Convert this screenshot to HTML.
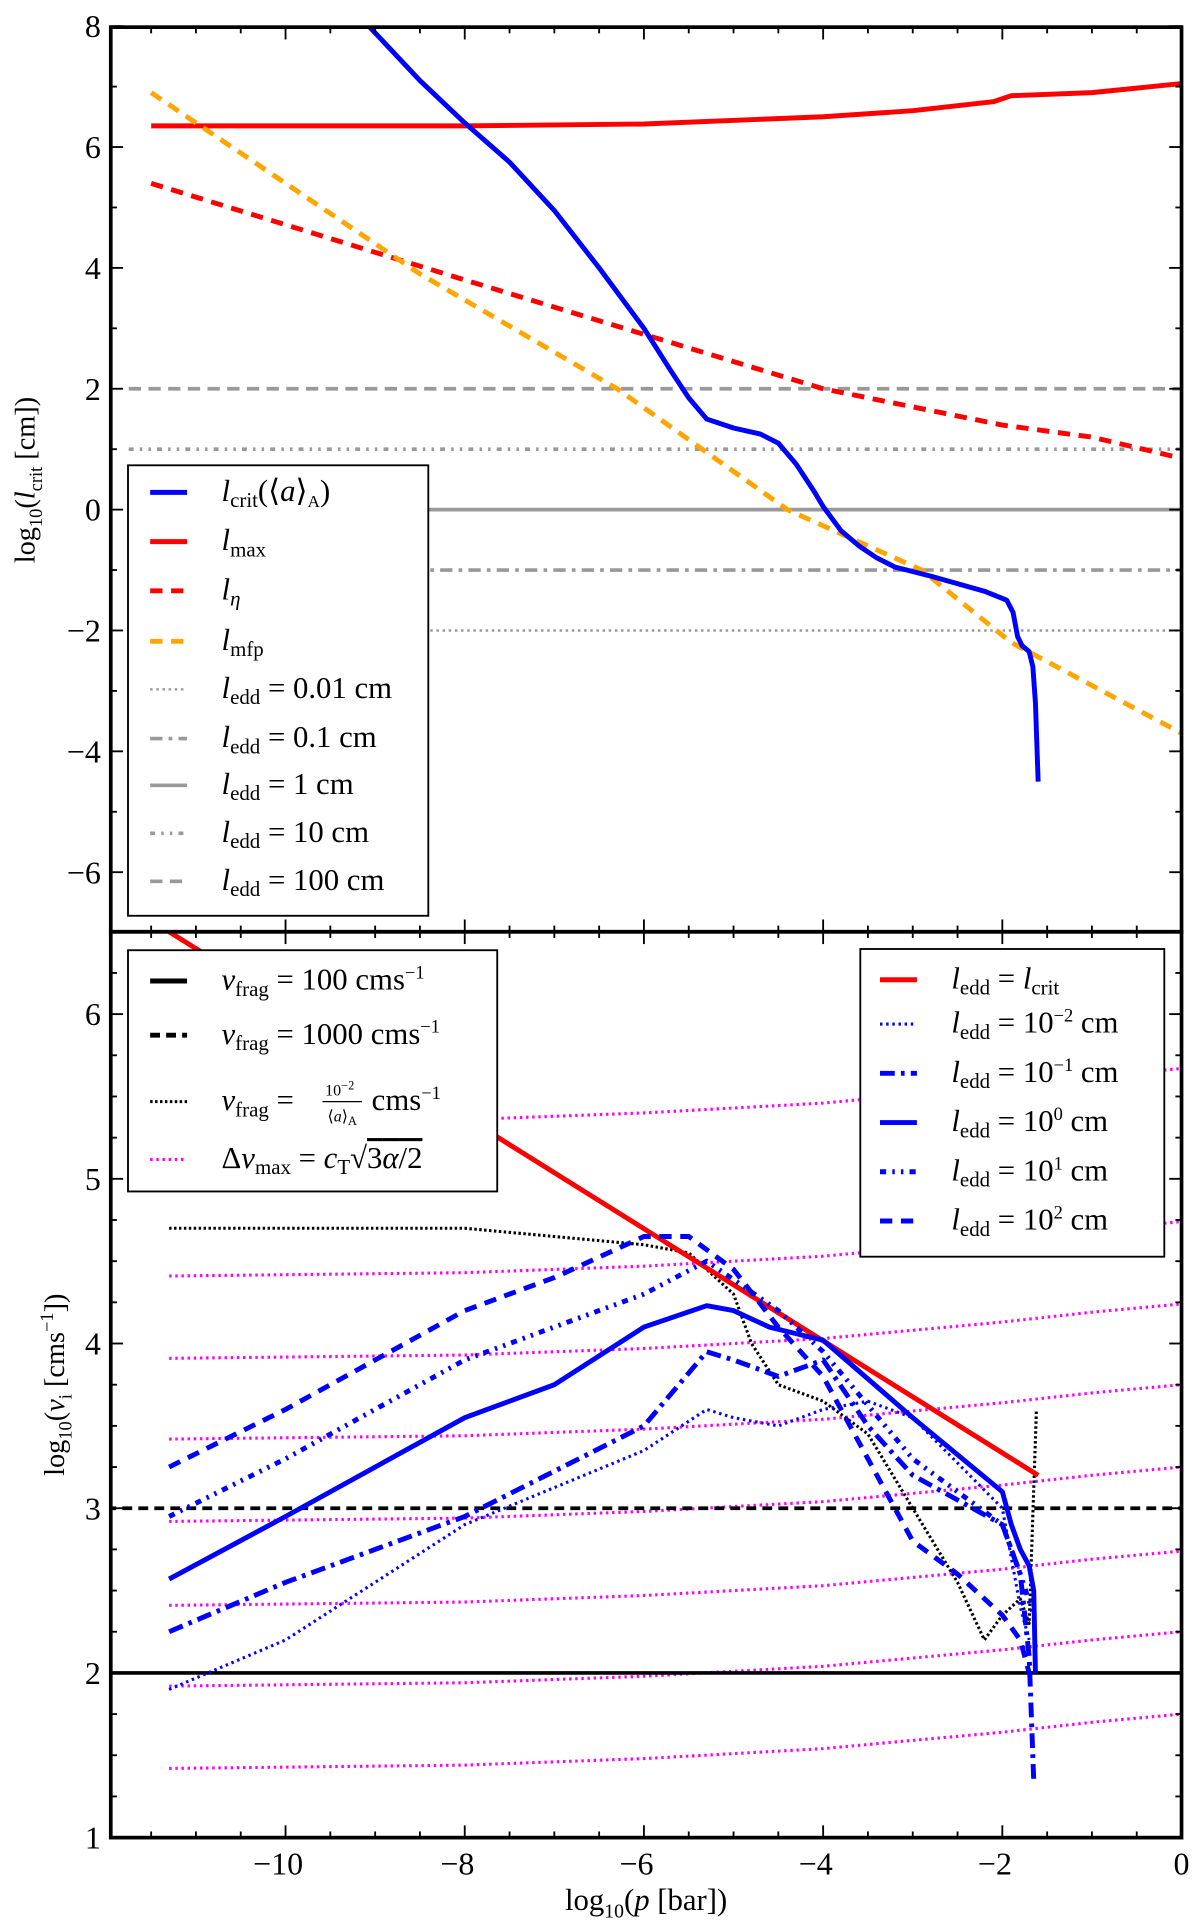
<!DOCTYPE html>
<html><head><meta charset="utf-8"><style>
html,body{margin:0;padding:0;background:#fff}
svg{display:block}
text{font-family:"Liberation Serif","DejaVu Serif",serif;fill:#000}
.it{font-style:italic}
</style></head><body>
<svg id="chart" width="1200" height="1930" viewBox="0 0 975 1568" xmlns="http://www.w3.org/2000/svg">
<g id="top"></g>
<g id="bot"></g>
</svg>
<script>
// ---- data (x = log10 p [bar]) ----
const xTicks = [-10,-8,-6,-4,-2,0];
const topYTicks = [-6,-4,-2,0,2,4,6,8];
const botYTicks = [1,2,3,4,5,6];

const lmaxX = [-11.5,-8,-6,-4,-3,-2.1,-1.9,-1,0];
const lmaxY = [6.35,6.35,6.38,6.5,6.6,6.75,6.85,6.9,7.05];
const letaX = [-11.5,-8,-6,-4,-2,-1,0];
const letaY = [5.4,3.8,2.9,2.0,1.4,1.2,0.85];
const lmfpX = [-11.5,-8.5,-6.3,-4.4,-2.9,-1.9,0];
const lmfpY = [6.9,3.9,2.0,0.0,-1.0,-2.2,-3.7];
const lcritX = [-9.07,-8.5,-8,-7.5,-7,-6.5,-6,-5.7,-5.5,-5.3,-5,-4.7,-4.5,-4.3,-4.1,-4,-3.8,-3.6,-3.4,-3.2,-2.8,-2.2,-1.95,-1.88,-1.83,-1.78,-1.7,-1.66,-1.63,-1.6];
const lcritY = [8,7.1,6.4,5.75,4.95,4.0,3.0,2.3,1.85,1.5,1.35,1.25,1.1,0.75,0.3,0.05,-0.35,-0.6,-0.8,-0.95,-1.1,-1.35,-1.5,-1.7,-2.1,-2.25,-2.35,-2.6,-3.2,-4.5];
const leddLevels = [2,1,0,-1,-2];

const vRedX = [-11.3,-1.6];
const vRedY = [6.5,3.2];
const fragDotX = [-11.3,-8,-7,-6,-5.5,-5,-4.8,-4.5,-4,-3.5,-3,-2.5,-2.2,-2,-1.8,-1.7,-1.62];
const fragDotY = [4.7,4.7,4.65,4.6,4.55,4.3,4.0,3.75,3.65,3.45,3.0,2.55,2.2,2.35,2.45,2.3,3.6];
const magX = [-11.3,-8,-6,-4,-3,-2,-1,0];
const magRise = [0,0.02,0.06,0.12,0.17,0.22,0.28,0.33];
const magBase = [5.34,4.41,3.91,3.42,2.92,2.41,1.92,1.42];

const b2X = [-11.3,-10,-8,-7,-6,-5.5,-5,-4.5,-4,-3.5,-3,-2.5,-2,-1.8,-1.7];
const b2Y = [3.25,3.6,4.2,4.4,4.65,4.65,4.45,4.1,3.8,3.3,2.8,2.6,2.35,2.2,2.0];
const b1X = [-11.3,-10,-8,-6,-5.3,-4.5,-4,-3,-2,-1.8,-1.65];
const b1Y = [2.95,3.3,3.9,4.3,4.5,4.2,3.95,3.3,2.9,2.6,2.35];
const b0X = [-11.3,-10,-8,-7,-6,-5.3,-5,-4.6,-4,-3,-2,-1.9,-1.8,-1.7,-1.65,-1.63];
const b0Y = [2.57,2.95,3.55,3.75,4.1,4.23,4.2,4.1,4.02,3.55,3.1,2.9,2.75,2.65,2.5,2.0];
const bm1X = [-11.3,-10,-8,-6,-5.3,-5,-4.5,-4,-3.5,-3,-2,-1.8,-1.7,-1.65];
const bm1Y = [2.25,2.55,2.95,3.5,3.95,3.9,3.8,3.9,3.5,3.2,2.9,2.6,2.1,1.35];
const bm2X = [-11.3,-10,-8,-6,-5.3,-5,-4.5,-4,-3.5,-3,-2,-1.8,-1.7];
const bm2Y = [1.9,2.2,2.9,3.35,3.6,3.55,3.5,3.6,3.65,3.55,3.0,2.4,2.2];

// ---- axes ----
const L=90,R=960,T=22,M=757,B=1493;
const X = v => 960 + v*72.8;
const YT = v => 414 - v*49.1;
const YB = v => 1493 - (v-1)*(B-M)/5.5;
const NS="http://www.w3.org/2000/svg";
const topG=document.getElementById('top'), botG=document.getElementById('bot');
function el(tag,attrs,parent,txt){const e=document.createElementNS(NS,tag);for(const k in attrs)e.setAttribute(k,attrs[k]);if(txt!==undefined)e.textContent=txt;parent.appendChild(e);return e;}
function line(xs,ys,Y,style,parent,name){
  const d=xs.map((x,i)=>(i?'L':'M')+X(x).toFixed(1)+','+Y(ys[i]).toFixed(1)).join('');
  const p=el('path',Object.assign({d:d,fill:'none','stroke-linejoin':'round'},style),parent);
  
  
  return p;
}
const clipT=el('clipPath',{id:'ct'},document.getElementById('chart'));el('rect',{x:L,y:T,width:R-L,height:M-T},clipT);
const clipB=el('clipPath',{id:'cb'},document.getElementById('chart'));el('rect',{x:L,y:M,width:R-L,height:B-M},clipB);
const tp=el('g',{'clip-path':'url(#ct)'},topG), bp=el('g',{'clip-path':'url(#cb)'},botG);

const gray='#999';
const grayStyles=[{'stroke-dasharray':'10,6'},{'stroke-dasharray':'4,5,2,5,2,5'},{},{'stroke-dasharray':'10,5,3,5'},{'stroke-dasharray':'2,3'}];
const grayNames=['ledd-100cm','ledd-10cm','ledd-1cm','ledd-0.1cm','ledd-0.01cm'];
leddLevels.forEach((v,i)=>{line([-11.75,0],[v,v],YT,Object.assign({stroke:gray,'stroke-width':i==4?2:3},grayStyles[i]),tp,grayNames[i]);});
line(lmaxX,lmaxY,YT,{stroke:'#f00','stroke-width':4},tp,'l-max-line');
line(letaX,letaY,YT,{stroke:'#f00','stroke-width':4,'stroke-dasharray':'10,7'},tp,'l-eta-line');
line(lmfpX,lmfpY,YT,{stroke:'#ffa500','stroke-width':4,'stroke-dasharray':'10,7'},tp,'l-mfp-line');
line(lcritX,lcritY,YT,{stroke:'#00f','stroke-width':4},tp,'l-crit-line');

// bottom
magBase.forEach((b,i)=>{line(magX,magX.map((_,j)=>b+magRise[j]),YB,{stroke:'#f0f','stroke-width':2.5,'stroke-dasharray':'2,3'},bp,'dv-max-line-'+i);});
line([-12,0],[2,2],YB,{stroke:'#000','stroke-width':3},bp,'vfrag-100');
line([-12,0],[3,3],YB,{stroke:'#000','stroke-width':3,'stroke-dasharray':'8,5'},bp,'vfrag-1000');
line(fragDotX,fragDotY,YB,{stroke:'#000','stroke-width':2.5,'stroke-dasharray':'2,2'},bp,'vfrag-scaled');
line(vRedX,vRedY,YB,{stroke:'#f00','stroke-width':4},bp,'ledd-lcrit-line');
line(bm2X,bm2Y,YB,{stroke:'#00f','stroke-width':2.5,'stroke-dasharray':'2,3'},bp,'ledd-1e-2');
line(bm1X,bm1Y,YB,{stroke:'#00f','stroke-width':4,'stroke-dasharray':'12,5,3,5'},bp,'ledd-1e-1');
line(b0X,b0Y,YB,{stroke:'#00f','stroke-width':4},bp,'ledd-1e0');
line(b1X,b1Y,YB,{stroke:'#00f','stroke-width':4,'stroke-dasharray':'5,5,2,5,2,5'},bp,'ledd-1e1');
line(b2X,b2Y,YB,{stroke:'#00f','stroke-width':4,'stroke-dasharray':'10,7'},bp,'ledd-1e2');

// ticks & frames
function frame(parent,y0,y1,Y,ticks,minorStep,ymin,ymax,name){
  for(let v=-11.5;v<=0.01;v+=0.5){const maj=Math.abs(v-Math.round(v/2)*2)<1e-6;const len=maj?10:5;
    el('line',{x1:X(v),x2:X(v),y1:y1,y2:y1-len,stroke:'#000','stroke-width':1.5},parent);
    el('line',{x1:X(v),x2:X(v),y1:y0,y2:y0+len,stroke:'#000','stroke-width':1.5},parent);}
  for(let v=ymin;v<=ymax+1e-6;v+=minorStep){const maj=Math.abs(v-Math.round(v))<1e-6 && ticks.includes(Math.round(v));const len=maj?10:5;
    el('line',{x1:L,x2:L+len,y1:Y(v),y2:Y(v),stroke:'#000','stroke-width':1.5},parent);
    el('line',{x1:R,x2:R-len,y1:Y(v),y2:Y(v),stroke:'#000','stroke-width':1.5},parent);}
  ticks.forEach(t=>{const tx=el('text',{x:L-8,y:Y(t)+9,'text-anchor':'end','font-size':26},parent,(t<0?'\u2212':'')+Math.abs(t));
    
    });
  const r=el('rect',{x:L,y:y0,width:R-L,height:y1-y0,fill:'none',stroke:'#000','stroke-width':3},parent);
  
  
}
frame(topG,T,M,YT,topYTicks,1,-7,8,'top-y');
frame(botG,M,B,YB,botYTicks,0.25,1,6.5,'bottom-y');
xTicks.forEach(t=>{const tx=el('text',{x:X(t)+(t<0?-6:0),y:B+30,'text-anchor':'middle','font-size':26},botG,(t<0?'\u2212':'')+Math.abs(t));
  
  });
</script>
<svg style="position:absolute;left:0;top:0" width="1200" height="1930" viewBox="0 0 975 1568" xmlns="http://www.w3.org/2000/svg">
<text x="525" y="1552" text-anchor="middle" font-size="25">log<tspan font-size="16" dy="6">10</tspan><tspan dy="-6">(</tspan><tspan class="it">p</tspan> [bar])</text>
<text transform="translate(28,390) rotate(-90)" text-anchor="middle" font-size="23">log<tspan font-size="15" dy="6">10</tspan><tspan dy="-6">(</tspan><tspan class="it">l</tspan><tspan font-size="15" dy="6">crit</tspan><tspan dy="-6"> [cm])</tspan></text>
<text transform="translate(52,1125) rotate(-90)" text-anchor="middle" font-size="23">log<tspan font-size="15" dy="6">10</tspan><tspan dy="-6">(</tspan><tspan class="it">v</tspan><tspan font-size="15" dy="6">i</tspan><tspan dy="-6"> [cms</tspan><tspan font-size="15" dy="-9">−1</tspan><tspan dy="9">])</tspan></text>

<g>
<rect x="104" y="378" width="244" height="366" fill="#fff" stroke="#000" stroke-width="1.5"/>
<line x1="122" x2="152" y1="400" y2="400" stroke="#00f" stroke-width="4"/>
<line x1="122" x2="152" y1="440" y2="440" stroke="#f00" stroke-width="4"/>
<line x1="122" x2="152" y1="480" y2="480" stroke="#f00" stroke-width="4" stroke-dasharray="10,7"/>
<line x1="122" x2="152" y1="521" y2="521" stroke="#ffa500" stroke-width="4" stroke-dasharray="10,7"/>
<line x1="122" x2="152" y1="560" y2="560" stroke="#999" stroke-width="2" stroke-dasharray="2,3"/>
<line x1="122" x2="152" y1="600" y2="600" stroke="#999" stroke-width="3" stroke-dasharray="10,5,3,5"/>
<line x1="122" x2="152" y1="638" y2="638" stroke="#999" stroke-width="3"/>
<line x1="122" x2="152" y1="677" y2="677" stroke="#999" stroke-width="3" stroke-dasharray="4,5,2,5,2,5"/>
<line x1="122" x2="152" y1="716" y2="716" stroke="#999" stroke-width="3" stroke-dasharray="10,6"/>
<g font-size="25">
<text x="180" y="407"><tspan class="it">l</tspan><tspan font-size="17" dy="5">crit</tspan><tspan dy="-5">(⟨</tspan><tspan class="it">a</tspan>⟩<tspan font-size="14" dy="5">A</tspan><tspan dy="-5">)</tspan></text>
<text x="180" y="447"><tspan class="it">l</tspan><tspan font-size="17" dy="5">max</tspan></text>
<text x="180" y="487"><tspan class="it">l</tspan><tspan font-size="17" dy="5" class="it">η</tspan></text>
<text x="180" y="528"><tspan class="it">l</tspan><tspan font-size="17" dy="5">mfp</tspan></text>
<text x="180" y="567"><tspan class="it">l</tspan><tspan font-size="17" dy="5">edd</tspan><tspan dy="-5"> = 0.01 cm</tspan></text>
<text x="180" y="607"><tspan class="it">l</tspan><tspan font-size="17" dy="5">edd</tspan><tspan dy="-5"> = 0.1 cm</tspan></text>
<text x="180" y="645"><tspan class="it">l</tspan><tspan font-size="17" dy="5">edd</tspan><tspan dy="-5"> = 1 cm</tspan></text>
<text x="180" y="684"><tspan class="it">l</tspan><tspan font-size="17" dy="5">edd</tspan><tspan dy="-5"> = 10 cm</tspan></text>
<text x="180" y="723"><tspan class="it">l</tspan><tspan font-size="17" dy="5">edd</tspan><tspan dy="-5"> = 100 cm</tspan></text>
</g></g>

<g>
<rect x="104" y="772" width="300" height="196" fill="#fff" stroke="#000" stroke-width="1.5"/>
<line x1="122" x2="152" y1="797" y2="797" stroke="#000" stroke-width="4"/>
<line x1="122" x2="152" y1="841" y2="841" stroke="#000" stroke-width="4" stroke-dasharray="8,5"/>
<line x1="122" x2="152" y1="895" y2="895" stroke="#000" stroke-width="2.5" stroke-dasharray="2,2"/>
<line x1="122" x2="152" y1="942" y2="942" stroke="#f0f" stroke-width="2.5" stroke-dasharray="2,3"/>
<g font-size="25">
<text x="180" y="804"><tspan class="it">v</tspan><tspan font-size="17" dy="5">frag</tspan><tspan dy="-5"> = 100 cms</tspan><tspan font-size="15" dy="-9">−1</tspan></text>
<text x="180" y="848"><tspan class="it">v</tspan><tspan font-size="17" dy="5">frag</tspan><tspan dy="-5"> = 1000 cms</tspan><tspan font-size="15" dy="-9">−1</tspan></text>
<text x="180" y="902"><tspan class="it">v</tspan><tspan font-size="17" dy="5">frag</tspan><tspan dy="-5"> = </tspan></text>
<text x="276" y="890" font-size="13" text-anchor="middle">10<tspan font-size="10" dy="-5">−2</tspan></text>
<line x1="262" x2="294" y1="895" y2="895" stroke="#000" stroke-width="1"/>
<text x="278" y="911" font-size="13" text-anchor="middle">⟨<tspan class="it">a</tspan>⟩<tspan font-size="10" dy="3">A</tspan></text>
<text x="302" y="902">cms<tspan font-size="15" dy="-9">−1</tspan></text>
<text x="180" y="949">Δ<tspan class="it">v</tspan><tspan font-size="17" dy="5">max</tspan><tspan dy="-5"> = </tspan><tspan class="it">c</tspan><tspan font-size="17" dy="5">T</tspan><tspan dy="-5">√</tspan><tspan text-decoration="overline">3<tspan class="it">α</tspan>/2</tspan></text>
</g></g>

<g>
<rect x="699" y="771" width="247" height="250" fill="#fff" stroke="#000" stroke-width="1.5"/>
<line x1="715" x2="745" y1="796" y2="796" stroke="#f00" stroke-width="4"/>
<line x1="715" x2="745" y1="832" y2="832" stroke="#00f" stroke-width="2.5" stroke-dasharray="2,3"/>
<line x1="715" x2="745" y1="872" y2="872" stroke="#00f" stroke-width="4" stroke-dasharray="12,5,3,5"/>
<line x1="715" x2="745" y1="912" y2="912" stroke="#00f" stroke-width="4"/>
<line x1="715" x2="745" y1="952" y2="952" stroke="#00f" stroke-width="4" stroke-dasharray="5,5,2,5,2,5"/>
<line x1="715" x2="745" y1="992" y2="992" stroke="#00f" stroke-width="4" stroke-dasharray="10,7"/>
<g font-size="25">
<text x="773" y="803"><tspan class="it">l</tspan><tspan font-size="17" dy="5">edd</tspan><tspan dy="-5"> = </tspan><tspan class="it">l</tspan><tspan font-size="17" dy="5">crit</tspan></text>
<text x="773" y="839"><tspan class="it">l</tspan><tspan font-size="17" dy="5">edd</tspan><tspan dy="-5"> = 10</tspan><tspan font-size="15" dy="-9">−2</tspan><tspan dy="9"> cm</tspan></text>
<text x="773" y="879"><tspan class="it">l</tspan><tspan font-size="17" dy="5">edd</tspan><tspan dy="-5"> = 10</tspan><tspan font-size="15" dy="-9">−1</tspan><tspan dy="9"> cm</tspan></text>
<text x="773" y="919"><tspan class="it">l</tspan><tspan font-size="17" dy="5">edd</tspan><tspan dy="-5"> = 10</tspan><tspan font-size="15" dy="-9">0</tspan><tspan dy="9"> cm</tspan></text>
<text x="773" y="959"><tspan class="it">l</tspan><tspan font-size="17" dy="5">edd</tspan><tspan dy="-5"> = 10</tspan><tspan font-size="15" dy="-9">1</tspan><tspan dy="9"> cm</tspan></text>
<text x="773" y="999"><tspan class="it">l</tspan><tspan font-size="17" dy="5">edd</tspan><tspan dy="-5"> = 10</tspan><tspan font-size="15" dy="-9">2</tspan><tspan dy="9"> cm</tspan></text>
</g></g>
</svg>
</body></html>
